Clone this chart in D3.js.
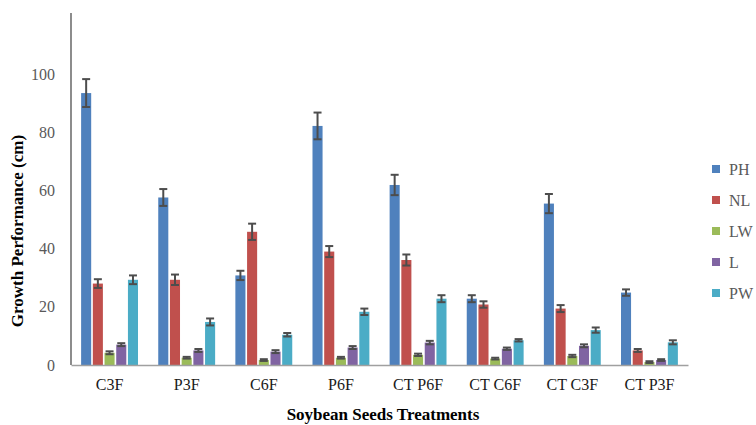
<!DOCTYPE html>
<html>
<head>
<meta charset="utf-8">
<script src="https://cdn.jsdelivr.net/npm/d3@7"></script>
<style>
  html, body { margin: 0; padding: 0; background: #fff; }
  svg { display: block; }
</style>
</head>
<body>
<svg id="chart" width="756" height="425"></svg>
<script>
const categories = ["C3F", "P3F", "C6F", "P6F", "CT P6F", "CT C6F", "CT C3F", "CT P3F"];
const seriesNames = ["PH", "NL", "LW", "L", "PW"];
const seriesColors = ["#4F81BD", "#C0504D", "#9BBB59", "#8064A2", "#4BACC6"];
const PH = [93.5, 57.6, 30.8, 82.2, 61.9, 22.8, 55.5, 24.9];
const NL = [28.0, 29.3, 45.8, 39.0, 36.1, 20.8, 19.4, 5.0];
const LW = [4.2, 2.5, 1.7, 2.5, 3.5, 2.2, 3.1, 1.0];
const L  = [7.0, 5.0, 4.6, 6.0, 7.7, 5.6, 6.6, 1.7];
const PW = [29.3, 14.8, 10.4, 18.3, 22.8, 8.5, 12.0, 7.8];
const PH_err = [4.8, 2.9, 1.6, 4.6, 3.5, 1.2, 3.3, 1.1];
const NL_err = [1.5, 1.8, 2.8, 1.9, 1.9, 1.1, 1.2, 0.5];
const LW_err = [0.5, 0.3, 0.3, 0.3, 0.4, 0.3, 0.4, 0.3];
const L_err  = [0.5, 0.5, 0.5, 0.5, 0.6, 0.4, 0.5, 0.3];
const PW_err = [1.5, 1.2, 0.6, 1.1, 1.2, 0.4, 0.9, 0.7];
const yTicks = [0, 20, 40, 60, 80, 100];
const yMax = 120;
const yTitle = "Growth Performance (cm)";
const xTitle = "Soybean Seeds Treatments";

(function () {
const values = [PH, NL, LW, L, PW];
const errors = [PH_err, NL_err, LW_err, L_err, PW_err];

const svg = d3.select("#chart");
const mLeft = 71, mRight = 688, mTop = 16, mBottom = 365;

const x0 = d3.scaleBand().domain(categories).range([mLeft, mRight]).paddingInner(0.22).paddingOuter(0.11);
const x1 = d3.scaleBand().domain(seriesNames).range([0, x0.bandwidth()]).padding(0.14);
const y = d3.scaleLinear().domain([0, yMax]).range([mBottom, mTop]);

const serif = "'Liberation Serif', 'Times New Roman', serif";

// bars
const groups = svg.append("g").selectAll("g")
  .data(categories).join("g")
  .attr("transform", c => `translate(${x0(c)},0)`);

groups.each(function(c, ci) {
  const g = d3.select(this);
  seriesNames.forEach((s, si) => {
    const v = values[si][ci];
    g.append("rect")
      .attr("x", x1(s))
      .attr("y", y(v))
      .attr("width", x1.bandwidth())
      .attr("height", y(0) - y(v))
      .attr("fill", seriesColors[si]);
  });
  seriesNames.forEach((s, si) => {
    const v = values[si][ci], e = errors[si][ci];
    const cx = x1(s) + x1.bandwidth() / 2;
    const eg = g.append("g").attr("stroke", "#4d4d4d").attr("stroke-width", 2);
    eg.append("line").attr("x1", cx).attr("x2", cx).attr("y1", y(v + e)).attr("y2", y(v - e));
    eg.append("line").attr("x1", cx - 4).attr("x2", cx + 4).attr("y1", y(v + e)).attr("y2", y(v + e));
    eg.append("line").attr("x1", cx - 4).attr("x2", cx + 4).attr("y1", y(v - e)).attr("y2", y(v - e));
  });
});

// y axis
const yAxis = d3.axisLeft(y).tickValues(yTicks).tickSize(0).tickPadding(16);
const yg = svg.append("g").attr("transform", `translate(${mLeft},0)`).call(yAxis);
yg.select(".domain").remove();
yg.selectAll("text").attr("font-family", serif).attr("font-size", 16).attr("fill", "#595959");
svg.append("line").attr("x1", mLeft).attr("x2", mLeft).attr("y1", 13).attr("y2", mBottom)
  .attr("stroke", "#404040").attr("stroke-width", 1.2);

// x axis
const xAxis = d3.axisBottom(x0).tickSize(0).tickPadding(14);
const xg = svg.append("g").attr("transform", `translate(0,${mBottom})`).call(xAxis);
xg.select(".domain").attr("stroke", "#a0a0a0").attr("stroke-width", 1.5);
xg.selectAll("text").attr("font-family", serif).attr("font-size", 16).attr("fill", "#1a1a1a");

// titles
svg.append("text")
  .attr("transform", `translate(23,231) rotate(-90)`)
  .attr("text-anchor", "middle")
  .attr("font-family", serif).attr("font-weight", "bold").attr("font-size", 17)
  .attr("fill", "#000")
  .text(yTitle);
svg.append("text")
  .attr("x", 383).attr("y", 420)
  .attr("text-anchor", "middle")
  .attr("font-family", serif).attr("font-weight", "bold").attr("font-size", 17)
  .attr("fill", "#000")
  .text(xTitle);

// legend
const lg = svg.append("g").selectAll("g").data(seriesNames).join("g")
  .attr("transform", (d, i) => `translate(712,${169 + i * 31})`);
lg.append("rect").attr("x", 0).attr("y", -4).attr("width", 8).attr("height", 8)
  .attr("fill", (d, i) => seriesColors[i]);
lg.append("text").attr("x", 17).attr("y", 5.5)
  .attr("font-family", serif).attr("font-size", 16).attr("fill", "#595959")
  .text(d => d);
})();
</script>
</body>
</html>
